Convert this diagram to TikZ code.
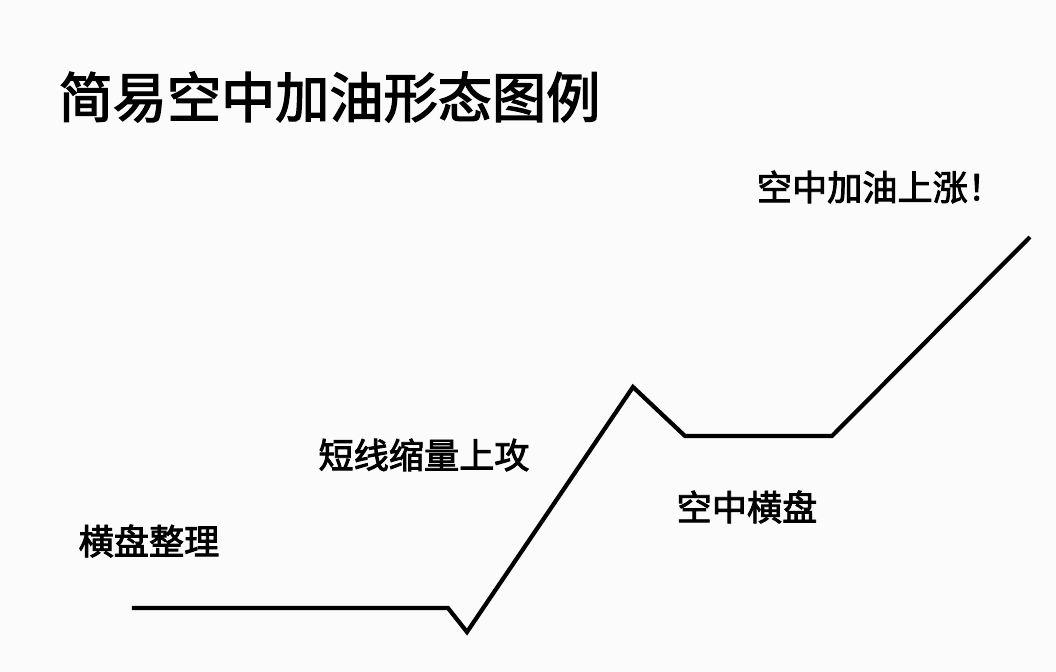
\documentclass[tikz,border=0pt]{standalone}
\usepackage{fontspec}
\newfontfamily\cjk{Noto Sans CJK SC}[AutoFakeBold=2.5]
\begin{document}
\begin{tikzpicture}[x=0.01cm,y=-0.01cm,
  lbl/.style={inner sep=0,font=\cjk\bfseries\fontsize{10pt}{12pt}\selectfont},
  ttl/.style={inner sep=0,font=\cjk\bfseries\fontsize{15.4pt}{18pt}\selectfont}]
\fill[white!97!gray] (0,0) rectangle (1056,672);
\node[ttl,anchor=west] (t) at (58,97) {简易空中加油形态图例};
\node[lbl] (a) at (149,541) {横盘整理};
\node[lbl] (b) at (424,455) {短线缩量上攻};
\node[lbl] (c) at (747,507) {空中横盘};
\node[lbl] (d) at (880,187) {空中加油上涨！};
\coordinate (p1) at (132,608);
\coordinate (p2) at (448,608);
\coordinate (p3) at (467,632);
\coordinate (p4) at (633,387);
\coordinate (p5) at (685,436);
\coordinate (p6) at (832,436);
\coordinate (p7) at (1030,237);
\draw[line width=1.2pt,line join=miter] (p1)--(p2)--(p3)--(p4)--(p5)--(p6)--(p7);
\end{tikzpicture}
\end{document}
